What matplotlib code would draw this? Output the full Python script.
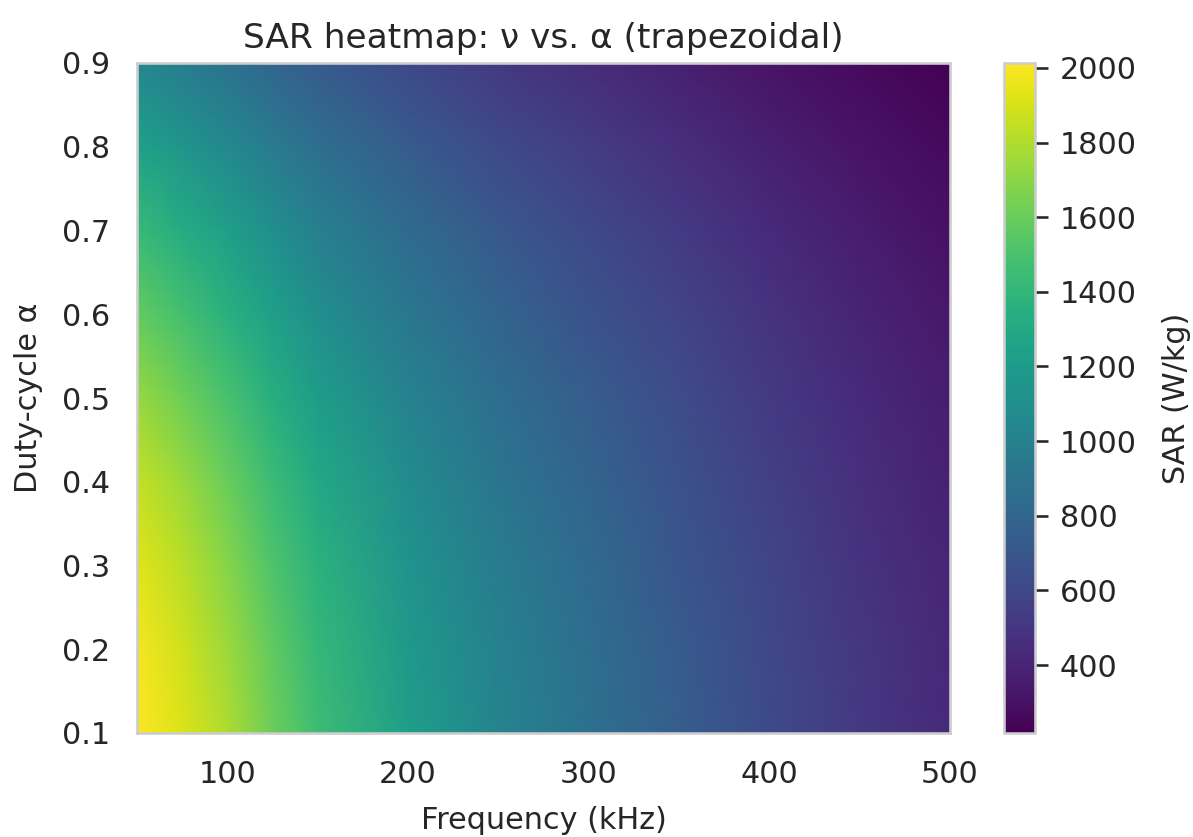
import numpy as np
import matplotlib
matplotlib.use("Agg")
import matplotlib.pyplot as plt
import seaborn as sns

sns.set_theme(style="whitegrid", context="notebook")
plt.rcParams['font.family'] = ['DejaVu Sans']
plt.rcParams['xtick.labelsize'] = 14.5
plt.rcParams['ytick.labelsize'] = 14.5
plt.rcParams['axes.labelsize'] = 14.5
plt.rcParams['axes.titlesize'] = 16.5

# Frequency samples (kHz) and duty-cycle samples
freq_khz = [50, 75, 100, 125, 150, 200, 250, 300, 350, 400, 450, 500]
duty_cycle = [0.1, 0.2, 0.3, 0.4, 0.5, 0.6, 0.7, 0.8, 0.9]

# SAR values (W/kg), one row per duty-cycle
sar_a01 = [2010, 1920, 1790, 1610, 1450, 1215, 1030, 885, 750, 622, 515, 430]
sar_a02 = [1985, 1885, 1750, 1575, 1415, 1185, 1000, 862, 728, 605, 502, 419]
sar_a03 = [1935, 1830, 1690, 1515, 1365, 1142, 965, 830, 700, 583, 484, 404]
sar_a04 = [1855, 1745, 1600, 1440, 1295, 1087, 918, 790, 667, 555, 461, 385]
sar_a05 = [1735, 1620, 1488, 1340, 1208, 1016, 860, 740, 626, 521, 433, 361]
sar_a06 = [1585, 1475, 1360, 1228, 1107, 933, 790, 680, 577, 481, 399, 333]
sar_a07 = [1425, 1325, 1224, 1102, 996, 839, 712, 614, 520, 434, 361, 301]
sar_a08 = [1240, 1155, 1065, 960, 868, 731, 620, 535, 453, 378, 314, 262]
sar_a09 = [1050, 970, 893, 804, 726, 611, 518, 447, 379, 316, 263, 219]

cbar_ticks = [400, 600, 800, 1000, 1200, 1400, 1600, 1800, 2000]

sar = np.array([sar_a01, sar_a02, sar_a03, sar_a04, sar_a05,
                sar_a06, sar_a07, sar_a08, sar_a09], dtype=float)

W, H = 1193, 837
dpi = 150
fig = plt.figure(figsize=(W / dpi, H / dpi), dpi=dpi)
ax = fig.add_axes([137 / W, 1 - 733 / H, 813 / W, 670 / H])
cax = fig.add_axes([1004 / W, 1 - 733 / H, 31 / W, 670 / H])

mesh = ax.pcolormesh(freq_khz, duty_cycle, sar, shading='gouraud',
                     cmap='viridis', vmin=218, vmax=2013)
ax.set_xlim(50, 500)
ax.set_ylim(0.1, 0.9)
ax.grid(False)
ax.set_xticks([100, 200, 300, 400, 500])
ax.set_yticks([0.1, 0.2, 0.3, 0.4, 0.5, 0.6, 0.7, 0.8, 0.9])
ax.tick_params(axis='x', pad=7)
ax.tick_params(axis='y', pad=7)
ax.set_xlabel("Frequency (kHz)", labelpad=8)
ax.set_ylabel("Duty-cycle α", labelpad=9)
ax.set_title("SAR heatmap: ν vs. α (trapezoidal)", pad=7)
for s in ax.spines.values():
    s.set_edgecolor('0.8')
    s.set_linewidth(1.25)

cb = fig.colorbar(mesh, cax=cax)
cb.set_ticks(cbar_ticks)
cb.set_label("SAR (W/kg)", labelpad=12)
cb.outline.set_edgecolor('0.8')
cb.outline.set_linewidth(1.25)
cax.tick_params(axis='y', length=6, width=1.25, color='0.15', pad=6)
cax.grid(False)

fig.savefig("out.png", dpi=dpi)
